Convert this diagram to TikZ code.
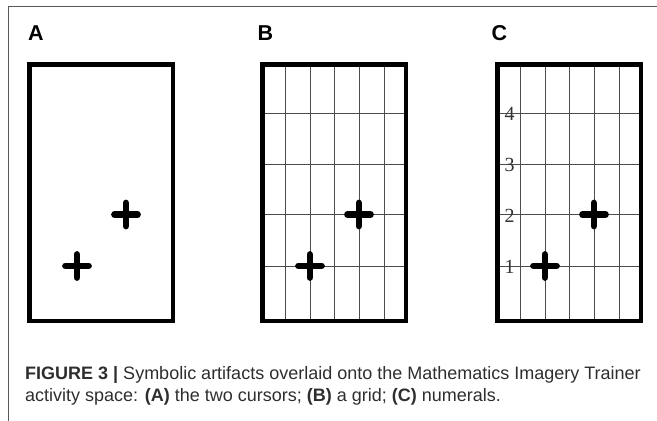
\documentclass[tikz,border=0pt]{standalone}
\usepackage{fontspec}
\setmainfont{Liberation Sans}
\newfontfamily\numfont{Liberation Serif}
\begin{document}
\begin{tikzpicture}[x=1pt,y=-1pt,
  frameline/.style={draw=black!65, line width=1pt},
  panelbox/.style={draw=black, line width=4.5pt, minimum width=143.5pt, minimum height=256.5pt, inner sep=0pt, outer sep=0pt, anchor=north west},
  gridline/.style={draw=black!70, line width=0.9pt},
  cursor/.style={draw=black, line width=6.8pt, line cap=round},
  panellabel/.style={anchor=base west, inner sep=0pt, font=\fontsize{21.5}{21.5}\selectfont\bfseries},
  numeral/.style={inner sep=0pt, text=black!80, font=\fontsize{20}{20}\selectfont\numfont},
  captext/.style={anchor=base west, inner sep=0pt, text=black!82, font=\fontsize{18}{18}\selectfont}
]
\useasboundingbox (0,0) rectangle (657,421);
% outer frame
\coordinate (ftr) at (657,6.5);
\coordinate (ftl) at (8.5,6.5);
\coordinate (fbl) at (8.5,421);
\draw[frameline] (ftr) -- (ftl) -- (fbl);

% labels
\node[panellabel] (labA) at (28,40) {A};
\node[panellabel] (labB) at (257.5,40) {B};
\node[panellabel] (labC) at (491.5,40) {C};

% grids for B and C
\foreach \bx in {260,495}{
  \foreach \dx in {25,50,74.5,99,124}{
    \draw[gridline] (\bx+\dx,62) -- (\bx+\dx,323);
  }
  \foreach \yy in {113,164,214.5,266}{
    \draw[gridline] (\bx,\yy) -- (\bx+148,\yy);
  }
}

% numerals in C
\node[numeral] (n4) at (509.5,114) {4};
\node[numeral] (n3) at (509.5,165) {3};
\node[numeral] (n2) at (509.5,215.5) {2};
\node[numeral] (n1) at (509.5,267) {1};

% panel boxes
\node[panelbox] (boxA) at (29.25,64.25) {};
\node[panelbox] (boxB) at (262.25,64.25) {};
\node[panelbox] (boxC) at (497.25,64.25) {};

% cursors
\foreach \cx/\cy in {77/266,126/214.5,310/266,359/214.5,545/266,594/214.5}{
  \draw[cursor] (\cx-11.5,\cy) -- (\cx+11.5,\cy);
  \draw[cursor] (\cx,\cy-11.5) -- (\cx,\cy+11.5);
}

% caption
\node[captext] (cap1) at (25,379) {\textbf{FIGURE 3 |} Symbolic artifacts overlaid onto the Mathematics Imagery Trainer};
\node[captext] (cap2) at (25,401) {activity space: \textbf{(A)} the two cursors; \textbf{(B)} a grid; \textbf{(C)} numerals.};
\end{tikzpicture}
\end{document}
